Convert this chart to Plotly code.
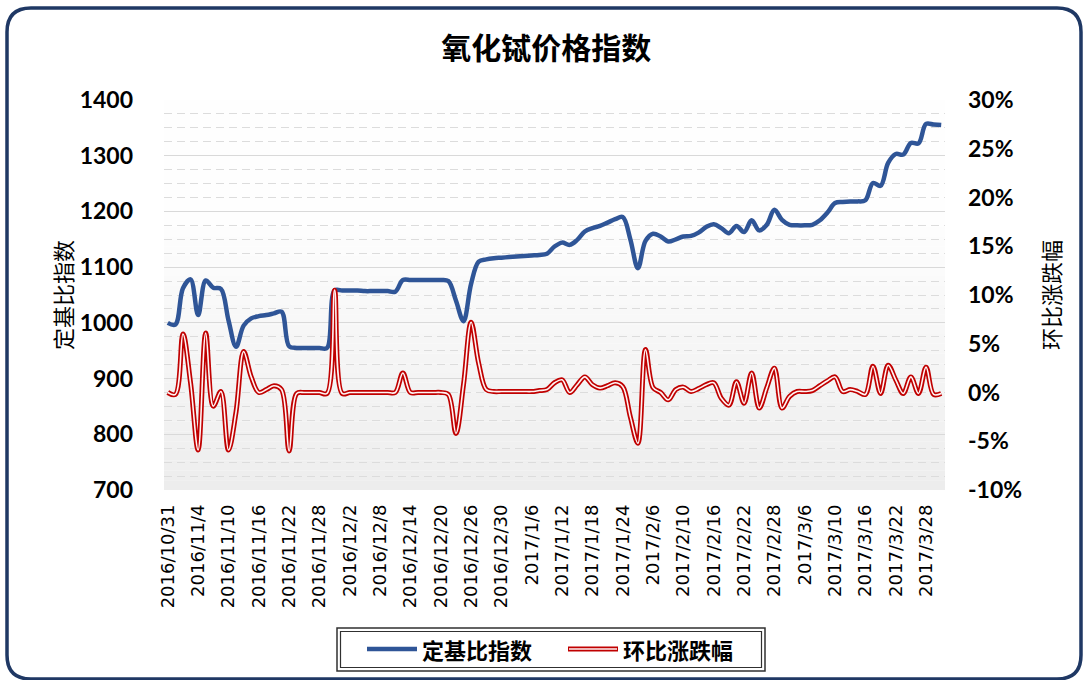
import plotly.graph_objects as go

# ---------------- data ----------------
nov = "1 2 3 4 7 8 9 10 11 14 15 16 17 18 21 22 23 24 25 28 29 30".split()
dec = "1 2 5 6 7 8 9 12 13 14 15 16 19 20 21 22 23 26 27 28 29 30".split()
jan = "3 4 5 6 9 10 11 12 13 16 17 18 19 20 23 24 25 26".split()
feb = "3 6 7 8 9 10 13 14 15 16 17 20 21 22 23 24 27 28".split()
mar = "1 2 3 6 7 8 9 10 13 14 15 16 17 20 21 22 23 24 27 28 29 30".split()
categories = (["2016/10/31"] + ["2016/11/" + d for d in nov] + ["2016/12/" + d for d in dec]
              + ["2017/1/" + d for d in jan] + ["2017/2/" + d for d in feb]
              + ["2017/3/" + d for d in mar])

index_values = [
    1000, 997, 1062, 1078, 1014, 1076, 1063, 1061, 1005, 957,
    995, 1008, 1012, 1014, 1017, 1020, 958, 955, 955, 955,
    955, 955, 1058, 1058, 1058, 1058, 1057, 1057, 1057, 1057,
    1056, 1077, 1077, 1077, 1077, 1077, 1077, 1075, 1040, 1003,
    1070, 1110, 1114, 1116, 1117, 1118, 1119, 1120, 1121, 1122,
    1124, 1137, 1144, 1140, 1149, 1164, 1170, 1174, 1180, 1186,
    1190, 1150, 1098, 1147, 1160, 1155, 1146, 1150, 1155, 1156,
    1162, 1172, 1177, 1170, 1161, 1174, 1163, 1184, 1166, 1176,
    1203, 1185, 1176, 1175, 1175, 1176, 1184, 1198, 1215, 1217,
    1218, 1218, 1220, 1251, 1246, 1287, 1303, 1302, 1323, 1322,
    1357, 1356, 1355]

change_pct = [
    0.0, -0.2, 6.0, 1.0, -5.9, 6.1, -1.4, 0.1, -5.9, -2.0,
    4.2, 1.6, 0.0, 0.3, 0.7, 0.3, -6.0, -0.1, 0.0, 0.0,
    0.0, -0.1, 10.5, -0.1, 0.0, 0.0, 0.0, 0.0, 0.0, 0.0,
    0.0, 2.0, 0.0, 0.0, 0.0, 0.0, 0.0, -0.2, -4.2, 0.8,
    7.2, 3.0, 0.3, 0.1, 0.1, 0.1, 0.1, 0.1, 0.1, 0.2,
    0.3, 1.0, 1.3, 0.0, 0.8, 1.6, 0.8, 0.45, 0.7, 1.0,
    0.6, -2.5, -5.2, 4.4, 0.5, 0.0, -0.75, 0.3, 0.55, 0.1,
    0.4, 0.8, 1.0, -0.6, -1.3, 1.1, -1.1, 2.0, -1.6, 0.5,
    2.5, -1.6, -0.4, 0.1, 0.1, 0.2, 0.7, 1.2, 1.6, 0.1,
    0.3, 0.1, -0.2, 2.7, -0.1, 2.8, 1.3, -0.1, 1.6, -0.1,
    2.6, -0.2, -0.1]

tick_labels = categories[::4]
left_ticks = [700, 800, 900, 1000, 1100, 1200, 1300, 1400]
right_ticks = [-10, -5, 0, 5, 10, 15, 20, 25, 30]
right_tick_text = ["-10%", "-5%", "0%", "5%", "10%", "15%", "20%", "25%", "30%"]

title_text = "氧化铽价格指数"
left_title = "定基比指数"
right_title = "环比涨跌幅"
name_index = "定基比指数"
name_change = "环比涨跌幅"

# ---------------- layout geometry (pixels) ----------------
W, H = 1088, 680
PL, PR, PT, PB = 164, 945, 100, 490   # plot area


def px(x):
    return (x - PL) / (PR - PL)


def py(y):
    return (PB - y) / (PB - PT)


BLUE = "#2F5597"
RED = "#C00000"
CJK = "Noto Sans CJK SC"

fig = go.Figure()

fig.add_trace(go.Scatter(
    x=categories, y=index_values, name=name_index, mode="lines",
    line=dict(color=BLUE, width=4.5, shape="spline", smoothing=1.0),
    showlegend=False))
fig.add_trace(go.Scatter(
    x=categories, y=change_pct, name=name_change, mode="lines", yaxis="y2",
    line=dict(color=RED, width=5, shape="spline", smoothing=1.0),
    showlegend=False))
fig.add_trace(go.Scatter(
    x=categories, y=change_pct, name=name_change, mode="lines", yaxis="y2",
    line=dict(color="#FFF4F4", width=1.6, shape="spline", smoothing=1.0),
    showlegend=False, hoverinfo="skip"))

shapes = []
# plot-area gradient background
n = 40
for k in range(n):
    y0 = PT + (PB - PT) * k / n
    y1 = PT + (PB - PT) * (k + 1) / n
    t = (k + 0.5) / n
    if t < 0.3:
        c = 254
    else:
        c = int(round(254 - (t - 0.3) / 0.7 * 17))
    shapes.append(dict(type="rect", xref="paper", yref="paper", layer="below",
                       x0=0, x1=1, y0=py(y1), y1=py(y0),
                       fillcolor=f"rgb({c},{c},{c})", line=dict(width=0)))

# rounded outer border
L, T, R, B, r = 7, 8, 1081, 679, 24
path = (f"M {px(L)},{py(T + r)} Q {px(L)},{py(T)} {px(L + r)},{py(T)} "
        f"L {px(R - r)},{py(T)} Q {px(R)},{py(T)} {px(R)},{py(T + r)} "
        f"L {px(R)},{py(B - r)} Q {px(R)},{py(B)} {px(R - r)},{py(B)} "
        f"L {px(L + r)},{py(B)} Q {px(L)},{py(B)} {px(L)},{py(B - r)} Z")
shapes.append(dict(type="path", xref="paper", yref="paper", path=path,
                   line=dict(color="#1F3864", width=3.5), layer="above"))

# manual legend box (double line)
for (x0, y0, x1, y1, w) in [(337, 628, 765, 671, 1.5), (340.5, 631.5, 761.5, 667.5, 1.2)]:
    shapes.append(dict(type="rect", xref="paper", yref="paper",
                       x0=px(x0), x1=px(x1), y0=py(y1), y1=py(y0),
                       line=dict(color="#303030", width=w), fillcolor="rgba(0,0,0,0)"))
LY = 649
shapes.append(dict(type="line", xref="paper", yref="paper", x0=px(367), x1=px(417),
                   y0=py(LY), y1=py(LY), line=dict(color=BLUE, width=4.5)))
shapes.append(dict(type="line", xref="paper", yref="paper", x0=px(568), x1=px(618),
                   y0=py(LY), y1=py(LY), line=dict(color=RED, width=5)))
shapes.append(dict(type="line", xref="paper", yref="paper", x0=px(569), x1=px(617),
                   y0=py(LY), y1=py(LY), line=dict(color="#FFF4F4", width=1.6)))

annotations = [
    dict(text=left_title, xref="paper", yref="paper", x=px(62), y=py(295),
         textangle=-90, showarrow=False, font=dict(family=CJK, size=22, color="#000000"),
         xanchor="center", yanchor="middle"),
    dict(text=right_title, xref="paper", yref="paper", x=px(1050), y=py(295),
         textangle=-90, showarrow=False, font=dict(family=CJK, size=22, color="#000000"),
         xanchor="center", yanchor="middle"),
    dict(text=name_index, xref="paper", yref="paper", x=px(420), y=py(LY),
         showarrow=False, xanchor="left", yanchor="middle",
         font=dict(family=CJK, size=22, color="#000000", weight="bold")),
    dict(text=name_change, xref="paper", yref="paper", x=px(621), y=py(LY),
         showarrow=False, xanchor="left", yanchor="middle",
         font=dict(family=CJK, size=22, color="#000000", weight="bold")),
]

fig.update_layout(
    width=W, height=H,
    margin=dict(l=PL, r=W - PR, t=PT, b=H - PB, pad=0),
    paper_bgcolor="white", plot_bgcolor="rgba(0,0,0,0)",
    title=dict(text=title_text, x=0.502, xanchor="center", y=1 - 48 / H, yanchor="middle",
               font=dict(family=CJK, size=30, color="#000000", weight="bold")),
    xaxis=dict(type="category", range=[-0.5, len(categories) - 0.5],
               tickmode="array", tickvals=tick_labels, ticktext=tick_labels,
               tickangle=-90, ticks="", showgrid=False, zeroline=False,
               showline=False, ticklabelstandoff=10,
               tickfont=dict(family="DejaVu Sans", size=18, color="#000000")),
    yaxis=dict(range=[700, 1400], tickmode="array", tickvals=left_ticks,
               showgrid=True, gridcolor="#D9D9D9", gridwidth=1, zeroline=False,
               showline=False, ticks="", ticklabelstandoff=30,
               minor=dict(dtick=25, tick0=700, showgrid=True, gridcolor="#DCDCDC",
                          griddash="8px,5px", gridwidth=1),
               tickfont=dict(family="Lato", size=23, color="#000000", weight="bold")),
    yaxis2=dict(range=[-10, 30], overlaying="y", side="right", tickmode="array",
                tickvals=right_ticks, ticktext=right_tick_text, showgrid=False,
                zeroline=False, showline=False, ticks="", ticklabelstandoff=22,
                tickfont=dict(family="Lato", size=23, color="#000000", weight="bold")),
    shapes=shapes, annotations=annotations, showlegend=False,
)

fig.write_html("out.html", config={"displayModeBar": False},
               post_script="document.body.style.margin='0';")
